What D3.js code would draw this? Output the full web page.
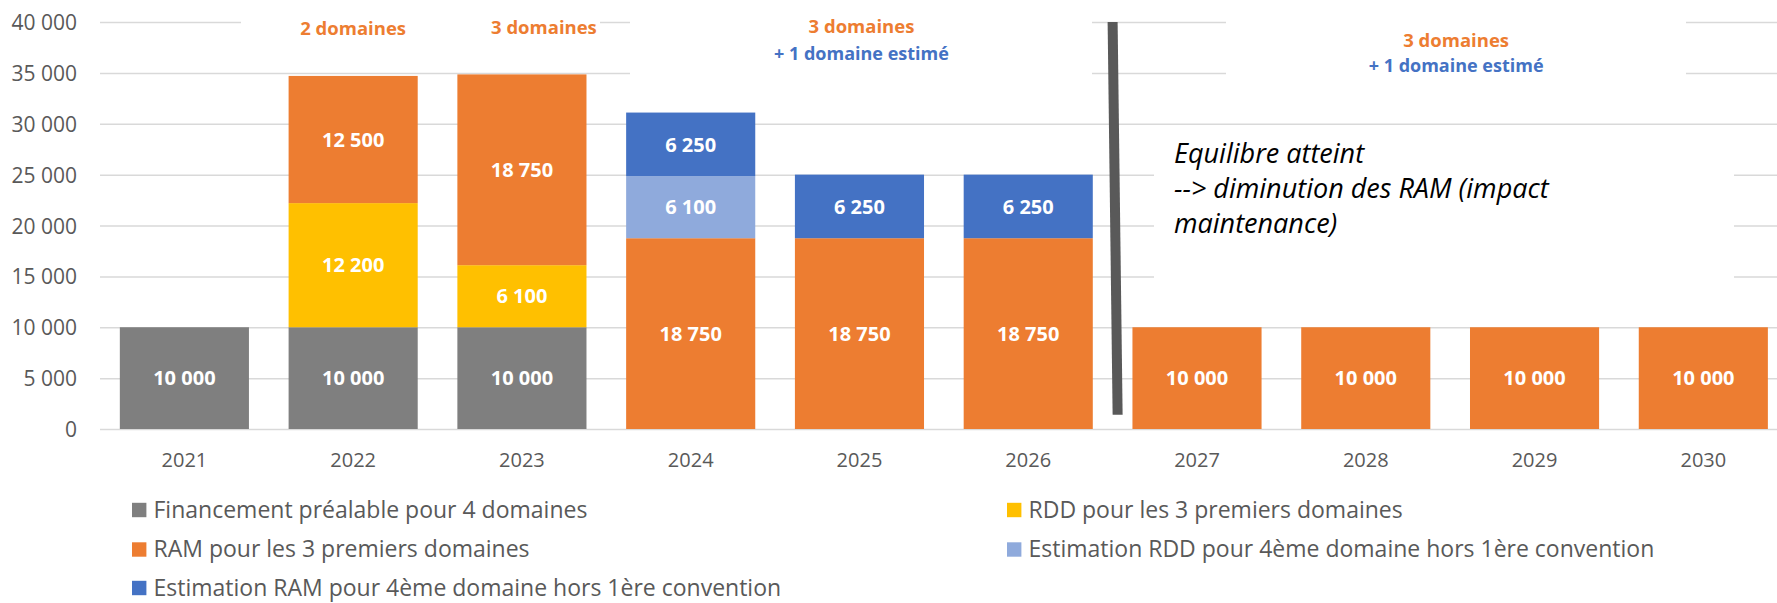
<!DOCTYPE html>
<html>
<head>
<meta charset="utf-8">
<script src="https://cdn.jsdelivr.net/npm/d3@7"></script>
<style>
  html, body { margin: 0; padding: 0; background: #fff; }
  svg { display: block; font-family: "Open Sans", Lato, sans-serif; }
</style>
</head>
<body>
<svg id="chart" width="1777" height="603"></svg>
<script>
// ---- data ----
const years = ["2021","2022","2023","2024","2025","2026","2027","2028","2029","2030"];
const financement = [10000,10000,10000,0,0,0,0,0,0,0];
const rdd         = [0,12200,6100,0,0,0,0,0,0,0];
const ram         = [0,12500,18750,18750,18750,18750,10000,10000,10000,10000];
const estRdd      = [0,0,0,6100,0,0,0,0,0,0];
const estRam      = [0,0,0,6250,6250,6250,0,0,0,0];
const seriesNames = [
  "Financement préalable pour 4 domaines",
  "RDD pour les 3 premiers domaines",
  "RAM pour les 3 premiers domaines",
  "Estimation RDD pour 4ème domaine hors 1ère convention",
  "Estimation RAM pour 4ème domaine hors 1ère convention"
];
const seriesColors = ["#7F7F7F","#FFC000","#ED7D31","#8FAADC","#4472C4"];
const yTicks = [0,5000,10000,15000,20000,25000,30000,35000,40000];
const noteLines = ["Equilibre atteint","--> diminution des RAM (impact","maintenance)"];

// ---- setup ----
const svg = d3.select("#chart");
const fmt = v => d3.format(",")(v).replace(/,/g, " ");
const keys = ["financement","rdd","ram","estRdd","estRam"];
const rows = years.map((yr,i) => ({year: yr, financement: financement[i], rdd: rdd[i], ram: ram[i], estRdd: estRdd[i], estRam: estRam[i]}));

const x = d3.scaleBand().domain(years).range([100, 1787.7]).paddingInner(0.235).paddingOuter(0.1175);
const y = d3.scaleLinear().domain([0, 40000]).range([429, 22]);

// gridlines
const yAxis = d3.axisLeft(y).tickValues(yTicks).tickSize(-(1787.7 - 100)).tickFormat(fmt).tickPadding(23);
const gy = svg.append("g").attr("transform", "translate(100,0)").call(yAxis)
  .attr("font-family", null).attr("font-size", null);
gy.select(".domain").remove();
gy.selectAll(".tick line").attr("stroke", "#D9D9D9").attr("stroke-width", 1.5);
gy.selectAll(".tick text").attr("fill", "#595959").style("font-size", "21px").attr("dy", "0.36em");

// white text-box backgrounds covering gridlines (as in original)
const boxes = [
  [241, 4, 600 - 241, 50],
  [630, 4, 1092 - 630, 102],
  [1226, 4, 1686 - 1226, 102],
  [1154, 132, 1734 - 1154, 170]
];
svg.append("g").selectAll("rect").data(boxes).join("rect")
  .attr("x", d => d[0]).attr("y", d => d[1]).attr("width", d => d[2]).attr("height", d => d[3])
  .attr("fill", "#fff");

// x axis
const xAxis = d3.axisBottom(x).tickSize(0).tickPadding(0);
const gx = svg.append("g").attr("transform", "translate(0,429)").call(xAxis)
  .attr("font-family", null).attr("font-size", null);
gx.select(".domain").remove();
gx.selectAll(".tick text").attr("fill", "#595959").style("font-size", "20px").attr("y", 38).attr("dy", "0");

// stacked bars
const stack = d3.stack().keys(keys)(rows);
const layers = svg.append("g").selectAll("g").data(stack).join("g")
  .attr("fill", (d,i) => seriesColors[i]);
layers.selectAll("rect").data(d => d.filter(s => s[1] - s[0] > 0)).join("rect")
  .attr("x", d => x(d.data.year))
  .attr("width", x.bandwidth())
  .attr("y", d => y(d[1]))
  .attr("height", d => y(d[0]) - y(d[1]));

// bar labels
const labG = svg.append("g");
stack.forEach(layer => {
  layer.forEach(s => {
    const v = s[1] - s[0];
    if (v <= 0) return;
    labG.append("text")
      .attr("x", x(s.data.year) + x.bandwidth()/2)
      .attr("y", (y(s[0]) + y(s[1]))/2)
      .attr("dy", "0.36em")
      .attr("text-anchor", "middle")
      .attr("fill", "#fff")
      .style("font-size", "20px")
      .style("font-weight", "bold")
      .text(fmt(v));
  });
});

// vertical separator line between 2026 and 2027
const sepX = x("2027") - x.step() * x.paddingInner() / 2;
svg.append("line")
  .attr("x1", sepX).attr("y1", y(40000))
  .attr("x2", sepX + 5).attr("y2", y(1400))
  .attr("stroke", "#595959").attr("stroke-width", 10);

// top annotations
const cx = yr => x(yr) + x.bandwidth()/2;
const topLabels = [
  {t: "2 domaines", x: cx("2022"), y: 35, c: "#ED7D31", s: 18.5},
  {t: "3 domaines", x: cx("2023") + 22, y: 33.5, c: "#ED7D31", s: 18.5},
  {t: "3 domaines", x: cx("2025") + 2, y: 33, c: "#ED7D31", s: 18.5},
  {t: "+ 1 domaine estimé", x: cx("2025") + 2, y: 59.5, c: "#4472C4", s: 18},
  {t: "3 domaines", x: (cx("2028") + cx("2029"))/2 + 6, y: 46.5, c: "#ED7D31", s: 18.5},
  {t: "+ 1 domaine estimé", x: (cx("2028") + cx("2029"))/2 + 6, y: 72, c: "#4472C4", s: 18}
];
svg.append("g").selectAll("text").data(topLabels).join("text")
  .attr("x", d => d.x).attr("y", d => d.y)
  .attr("text-anchor", "middle")
  .attr("fill", d => d.c)
  .style("font-size", d => d.s + "px").style("font-weight", "bold")
  .text(d => d.t);

// italic note
svg.append("g").selectAll("text").data(noteLines).join("text")
  .attr("x", 1174).attr("y", (d,i) => 163 + i*35)
  .attr("fill", "#000")
  .style("font-size", "27px").style("font-style", "italic")
  .text(d => d);

// legend
const legendPos = [[132, 510],[1007, 510],[132, 549.5],[1007, 549.5],[132, 588]];
const lg = svg.append("g").selectAll("g").data(seriesNames).join("g")
  .attr("transform", (d,i) => `translate(${legendPos[i][0]},${legendPos[i][1]})`);
lg.append("rect").attr("x", 0).attr("y", -7.2).attr("width", 14.4).attr("height", 14.4)
  .attr("fill", (d,i) => seriesColors[i]);
lg.append("text").attr("x", 21.5).attr("y", 0).attr("dy", "0.33em")
  .attr("fill", "#595959").style("font-size", "23px").text(d => d);
</script>
</body>
</html>
